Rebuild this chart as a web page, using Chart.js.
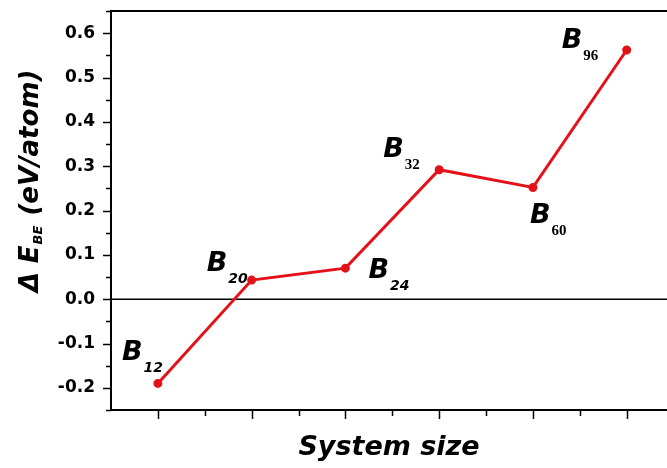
<!DOCTYPE html>
<html>
<head>
<meta charset="utf-8">
<script src="https://cdn.jsdelivr.net/npm/chart.js@4.4.1/dist/chart.umd.min.js"></script>
<style>
  html, body { margin: 0; padding: 0; background: #fff; overflow: hidden; }
  canvas { display: block; }
</style>
</head>
<body>
<canvas id="chart" width="667" height="468"></canvas>
<script>
// Data
const clusters = ["12", "20", "24", "32", "60", "96"];
const deltaE = [-0.19, 0.043, 0.07, 0.292, 0.252, 0.562];
const yTicks = [-0.2, -0.1, 0.0, 0.1, 0.2, 0.3, 0.4, 0.5, 0.6];

// label placement relative to each point (B left edge, B baseline)
const labelOffsets = [[-36, -23], [-45, -9], [23, 10], [-56, -13], [-3, 36], [-65, -2]];
const subSerif = [false, false, false, true, true, true];

const RED = "rgb(228, 18, 24)";
const FONT = "'DejaVu Sans', sans-serif";

function line(ctx, x1, y1, x2, y2) {
  ctx.beginPath();
  ctx.moveTo(x1, y1);
  ctx.lineTo(x2, y2);
  ctx.stroke();
}

function noPad(scale) {
  scale.paddingTop = 0;
  scale.paddingBottom = 0;
  scale.paddingLeft = 0;
  scale.paddingRight = 0;
}

const decor = {
  id: "decor",
  beforeDatasetsDraw(chart) {
    const { ctx, chartArea: a, scales } = chart;
    const x = scales.x, y = scales.y;
    ctx.save();
    ctx.strokeStyle = "#000";

    // zero line
    ctx.lineWidth = 1.5;
    const y0 = y.getPixelForValue(0);
    line(ctx, a.left, y0, a.right, y0);

    // top frame
    ctx.lineWidth = 2;
    line(ctx, a.left - 1, a.top, a.right, a.top);

    // y ticks (major labelled, minor between)
    ctx.lineWidth = 1.5;
    y.ticks.forEach((t) => {
      const py = Math.round(y.getPixelForValue(t.value)) + 0.5;
      const len = t.label ? 8 : 5;
      line(ctx, a.left - len, py, a.left, py);
    });

    // x ticks at each system and halfway between
    for (let i = 1; i <= clusters.length; i++) {
      const px = Math.round(x.getPixelForValue(i)) + 0.5;
      line(ctx, px, a.bottom, px, a.bottom + 9);
      if (i < clusters.length) {
        const mx = Math.round(x.getPixelForValue(i + 0.5)) + 0.5;
        line(ctx, mx, a.bottom, mx, a.bottom + 6);
      }
    }
    ctx.restore();
  },
  afterDatasetsDraw(chart) {
    const { ctx, scales } = chart;
    const x = scales.x, y = scales.y;
    ctx.save();
    ctx.fillStyle = "#000";
    ctx.textBaseline = "alphabetic";
    ctx.textAlign = "left";

    // B_n labels
    clusters.forEach((n, i) => {
      const px = x.getPixelForValue(i + 1);
      const py = y.getPixelForValue(deltaE[i]);
      const bx = px + labelOffsets[i][0];
      const by = py + labelOffsets[i][1];
      ctx.font = "italic bold 27px " + FONT;
      ctx.fillText("B", bx, by);
      const w = ctx.measureText("B").width;
      ctx.font = subSerif[i]
        ? "bold 15px 'Liberation Serif', serif"
        : "italic bold 14px " + FONT;
      ctx.fillText(n, bx + w + 1, by + 12);
    });

    // y axis title with subscript
    const main1 = "\u0394 E";
    const sub = "BE";
    const main2 = " (eV/atom)";
    ctx.translate(38, 181);
    ctx.rotate(-Math.PI / 2);
    ctx.font = "italic bold 26px " + FONT;
    const w1 = ctx.measureText(main1).width;
    const w3 = ctx.measureText(main2).width;
    ctx.font = "italic bold 13px " + FONT;
    const w2 = ctx.measureText(sub).width;
    let sx = -(w1 + w2 + w3 + 2) / 2;
    ctx.font = "italic bold 26px " + FONT;
    ctx.fillText(main1, sx, 0);
    sx += w1 + 1;
    ctx.font = "italic bold 13px " + FONT;
    ctx.fillText(sub, sx, 4);
    sx += w2 + 1;
    ctx.font = "italic bold 26px " + FONT;
    ctx.fillText(main2, sx, 0);
    ctx.restore();
  },
};

const points = deltaE.map((v, i) => ({ x: i + 1, y: v }));

new Chart(document.getElementById("chart"), {
  type: "line",
  data: {
    datasets: [
      {
        data: points,
        borderColor: RED,
        backgroundColor: RED,
        borderWidth: 3,
        pointRadius: 3,
        pointBackgroundColor: RED,
        pointBorderColor: RED,
        tension: 0,
        fill: false,
      },
    ],
  },
  options: {
    responsive: false,
    devicePixelRatio: 1,
    animation: false,
    layout: {
      autoPadding: false,
      padding: { top: 11, right: 0, left: 0, bottom: 0 },
    },
    plugins: {
      legend: { display: false },
      tooltip: { enabled: false },
    },
    scales: {
      x: {
        type: "linear",
        min: 0.5,
        max: 6.43,
        grid: { display: false, drawTicks: false },
        border: { display: true, color: "#000", width: 2 },
        ticks: { display: false },
        title: {
          display: true,
          text: "System size",
          color: "#000",
          font: { family: FONT, size: 27, weight: "bold", style: "italic" },
          padding: { top: 0, bottom: 4 },
        },
        afterFit(scale) {
          scale.height = 58;
          noPad(scale);
        },
      },
      y: {
        min: -0.25,
        max: 0.65,
        grid: {
          display: true,
          drawOnChartArea: false,
          drawTicks: true,
          tickLength: 8,
          tickColor: "rgba(0,0,0,0)",
        },
        border: { display: true, color: "#000", width: 2 },
        ticks: {
          stepSize: 0.05,
          autoSkip: false,
          padding: 8,
          color: "#000",
          font: { family: FONT, size: 17, weight: "bold" },
          callback: function (v) {
            const k = Math.round(v * 100);
            if (k % 10 !== 0) return "";
            const t = yTicks.find((s) => Math.round(s * 100) === k);
            return t === undefined ? "" : t.toFixed(1);
          },
        },
        afterFit(scale) {
          scale.width = 111;
          noPad(scale);
        },
      },
    },
  },
  plugins: [decor],
});
</script>
</body>
</html>
